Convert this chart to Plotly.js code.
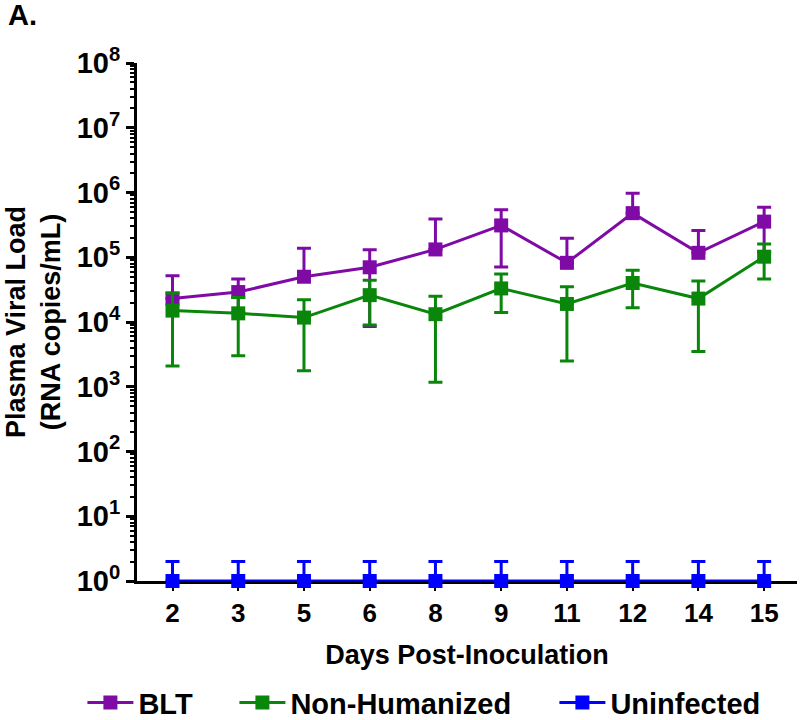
<!DOCTYPE html>
<html>
<head>
<meta charset="utf-8">
<script src="https://cdn.plot.ly/plotly-3.0.1.min.js"></script>
<style>
  html, body { margin: 0; padding: 0; background: #fff; }
  #chart { width: 800px; height: 720px; }
</style>
</head>
<body>
<div id="chart"></div>
<script>
// days post-inoculation (categorical x)
var days = ['2', '3', '5', '6', '8', '9', '11', '12', '14', '15'];

// BLT mice: mean, top of error bar, bottom of error bar (null = not drawn)
var blt_mean = [2.3e4, 2.9e4, 5.0e4, 7.0e4, 1.32e5, 3.1e5, 8.2e4, 4.8e5, 1.17e5, 3.55e5];
var blt_hi   = [5.2e4, 4.6e4, 1.38e5, 1.3e5, 3.9e5, 5.4e5, 1.96e5, 9.7e5, 2.6e5, 5.9e5];
var blt_lo   = [null, 1.4e4, null, 8.5e3, null, 7.1e4, null, null, null, 1.2e5];

// non-humanized mice
var nh_mean = [1.5e4, 1.36e4, 1.17e4, 2.6e4, 1.32e4, 3.3e4, 1.9e4, 4.0e4, 2.3e4, 1.02e5];
var nh_hi   = [2.8e4, 2.4e4, 2.2e4, 4.4e4, 2.5e4, 5.5e4, 3.5e4, 6.3e4, 4.3e4, 1.6e5];
var nh_lo   = [2.1e3, 3.0e3, 1.77e3, 9.0e3, 1.17e3, 1.4e4, 2.5e3, 1.66e4, 3.5e3, 4.6e4];

// uninfected
var un_mean = [1, 1, 1, 1, 1, 1, 1, 1, 1, 1];
var un_hi   = [2, 2, 2, 2, 2, 2, 2, 2, 2, 2];
var un_lo   = [null, null, null, null, null, null, null, null, null, null];

var ytick_vals = [1, 10, 100, 1e3, 1e4, 1e5, 1e6, 1e7, 1e8];
var ytick_text = ['0', '1', '2', '3', '4', '5', '6', '7', '8'].map(function(p){
  return '10<sup>' + p + '</sup>';
});

var FONT = 'Arial, "Liberation Sans", sans-serif';

function series(name, mean, hi, lo, color, leg) {
  var plus = mean.map(function(m, i){ return hi[i] - m; });
  var minus = mean.map(function(m, i){ return lo[i] == null ? 0 : m - lo[i]; });
  return {
    x: days,
    y: mean,
    name: name,
    legend: leg,
    type: 'scatter',
    mode: 'lines+markers',
    cliponaxis: false,
    line: { color: color, width: 3 },
    marker: { symbol: 'square', size: 14, color: color },
    error_y: {
      type: 'data', symmetric: false,
      array: plus, arrayminus: minus,
      color: color, thickness: 3, width: 7
    }
  };
}

var trace1 = series('BLT', blt_mean, blt_hi, blt_lo, '#7f0aa6', 'legend');
var trace2 = series('Non-Humanized', nh_mean, nh_hi, nh_lo, '#0a870a', 'legend2');
var trace3 = series('Uninfected', un_mean, un_hi, un_lo, '#0000ff', 'legend3');

// one legend per series so each entry sits where the reference puts it
function legendAt(x) {
  return {
    orientation: 'h',
    xref: 'container', yref: 'container',
    x: x, xanchor: 'left',
    y: 0.024, yanchor: 'middle',
    font: { family: FONT, size: 29, weight: 'bold' },
    itemwidth: 46,
    bgcolor: 'rgba(0,0,0,0)'
  };
}

var layout = {
  width: 800,
  height: 720,
  paper_bgcolor: '#fff',
  plot_bgcolor: '#fff',
  margin: { l: 137, r: 3, t: 63, b: 139 },
  font: { family: FONT, color: '#000', weight: 'bold' },
  title: {
    text: 'A.',
    x: 0.01, xanchor: 'left',
    y: 0.979, yanchor: 'middle',
    font: { family: FONT, size: 29, weight: 'bold', color: '#000' }
  },
  showlegend: true,
  legend: legendAt(0.103),
  legend2: legendAt(0.293),
  legend3: legendAt(0.693),
  xaxis: {
    type: 'category',
    range: [-0.54, 9.5],
    showline: true, linecolor: '#000', linewidth: 3,
    layer: 'below traces',
    ticks: 'outside', ticklen: 7, tickwidth: 2, tickcolor: '#000',
    showgrid: false, zeroline: false,
    tickfont: { family: FONT, size: 26, weight: 'bold' },
    title: {
      text: 'Days Post-Inoculation',
      font: { family: FONT, size: 27, weight: 'bold' },
      standoff: 18
    }
  },
  yaxis: {
    type: 'log',
    range: [0, 8],
    tickmode: 'array',
    tickvals: ytick_vals,
    ticktext: ytick_text,
    showline: true, linecolor: '#000', linewidth: 3,
    ticks: 'outside', ticklen: 8, tickwidth: 3, tickcolor: '#000',
    minor: { ticks: 'outside', ticklen: 4, tickwidth: 2, tickcolor: '#000', dtick: 'D1' },
    showgrid: false, zeroline: false,
    tickfont: { family: FONT, size: 29, weight: 'bold' },
    title: {
      text: 'Plasma Viral Load<br>(RNA copies/mL)',
      font: { family: FONT, size: 27, weight: 'bold' },
      standoff: 9
    }
  }
};

Plotly.newPlot('chart', [trace1, trace2, trace3], layout, { displayModeBar: false, staticPlot: true });
</script>
</body>
</html>
